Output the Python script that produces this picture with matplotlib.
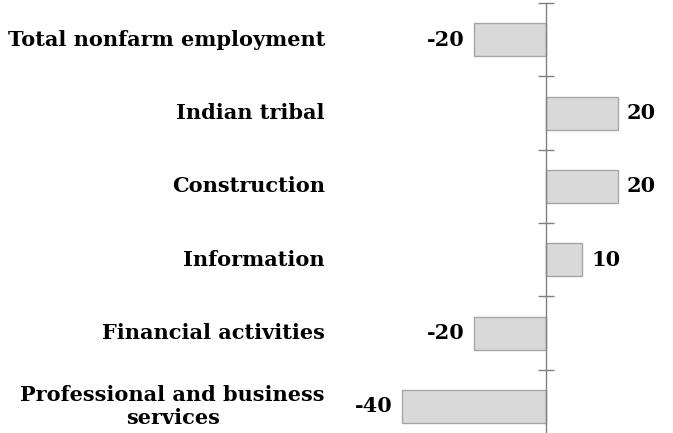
import matplotlib.pyplot as plt

categories = ["Total nonfarm employment", "Indian tribal", "Construction",
              "Information", "Financial activities",
              "Professional and business\nservices"]
values = [-20, 20, 20, 10, -20, -40]

plt.rcParams['font.family'] = ['DejaVu Serif']
plt.rcParams['font.weight'] = 'bold'

fig = plt.figure(figsize=(6.73, 4.33), dpi=100)
# axes spans the whole width; bottom runs a bit below the figure
ax = fig.add_axes([0, -10 / 433, 1, 440 / 433])

pos = list(range(len(categories)))
ax.barh(pos, values, height=0.45, color='#d9d9d9', edgecolor='#a6a6a6', linewidth=1)

ax.set_xlim(-546 / 3.6, 127 / 3.6)
ax.set_ylim(len(categories) - 0.5, -0.5)

for s in ['top', 'right', 'bottom']:
    ax.spines[s].set_visible(False)
ax.spines['left'].set_position(('data', 0))
ax.spines['left'].set_color('#808080')
ax.spines['left'].set_linewidth(1)

ax.set_xticks([])
ax.set_yticks([p - 0.5 for p in pos] + [len(categories) - 0.5])
ax.set_yticklabels([])
ax.tick_params(axis='y', direction='inout', length=11, color='#808080', width=1)

for p, name, v in zip(pos, categories, values):
    ax.text(-61.4, p, name, ha='right', va='center', fontsize=15,
            fontweight='bold', linespacing=1.2, multialignment='center')
    ax.annotate(str(v), xy=(v, p), xytext=(6.5 if v > 0 else -6.5, 0),
                textcoords='offset points', ha='left' if v > 0 else 'right',
                va='center', fontsize=15, fontweight='bold')

fig.savefig('out.png', dpi=100)
